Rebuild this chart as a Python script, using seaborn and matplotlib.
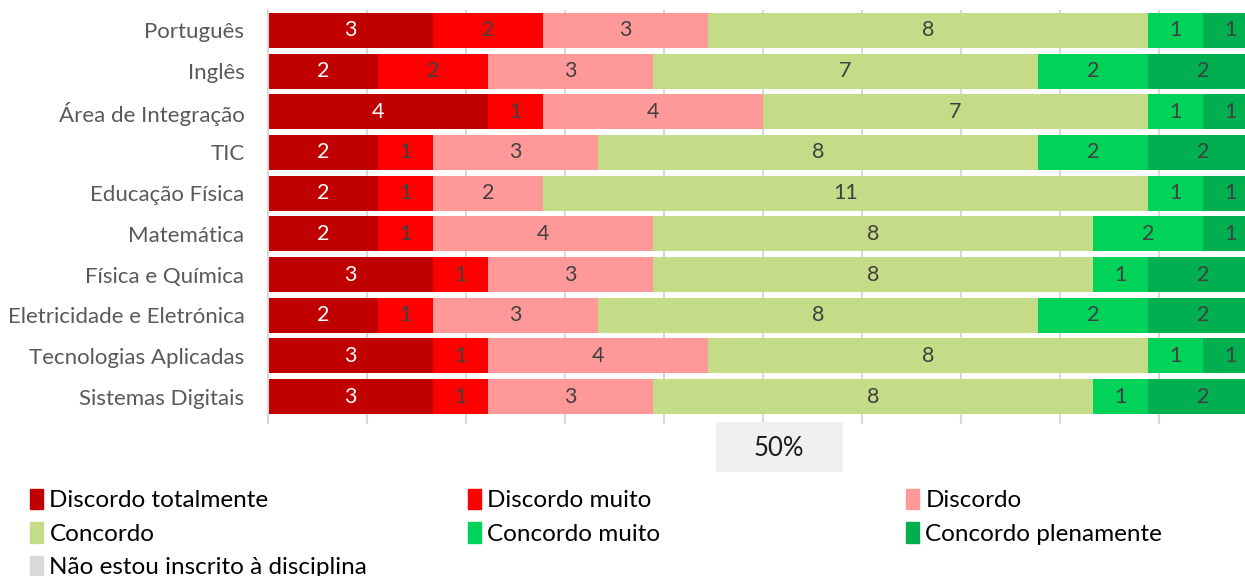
import numpy as np
import pandas as pd
import matplotlib.pyplot as plt
import matplotlib.patches as mpatches
import seaborn as sns

# dados
disciplinas = ['Português', 'Inglês', 'Área de Integração', 'TIC', 'Educação Física',
               'Matemática', 'Física e Química', 'Eletricidade e Eletrónica',
               'Tecnologias Aplicadas', 'Sistemas Digitais']
niveis = ['Discordo totalmente', 'Discordo muito', 'Discordo', 'Concordo',
          'Concordo muito', 'Concordo plenamente', 'Não estou inscrito à disciplina']
discordo_totalmente = [3, 2, 4, 2, 2, 2, 3, 2, 3, 3]
discordo_muito = [2, 2, 1, 1, 1, 1, 1, 1, 1, 1]
discordo = [3, 3, 4, 3, 2, 4, 3, 3, 4, 3]
concordo = [8, 7, 7, 8, 11, 8, 8, 8, 8, 8]
concordo_muito = [1, 2, 1, 2, 1, 2, 1, 2, 1, 1]
concordo_plenamente = [1, 2, 1, 2, 1, 1, 2, 2, 1, 2]
nao_inscrito = [0, 0, 0, 0, 0, 0, 0, 0, 0, 0]

cores = ['#C00000', '#FF0000', '#FF9999', '#C4DC87', '#00D25A', '#00B050', '#D9D9D9']
cor_texto = ['white', '#404040', '#404040', '#404040', '#404040', '#404040', '#404040']

df = pd.DataFrame(
    np.array([discordo_totalmente, discordo_muito, discordo, concordo,
              concordo_muito, concordo_plenamente, nao_inscrito]).T,
    index=disciplinas, columns=niveis)
total = df.sum(axis=1)
frac = df.div(total, axis=0)
cum = frac.cumsum(axis=1)

plt.rcParams['font.family'] = ['Lato', 'DejaVu Sans']

fig = plt.figure(figsize=(12.45, 5.76), dpi=100)
ax = fig.add_axes([268 / 1245, 1 - 417 / 576, 977 / 1245, 407 / 576])

# barras empilhadas: desenhar do maior acumulado para o menor
for i in range(len(niveis) - 1, -1, -1):
    sns.barplot(x=cum[niveis[i]].values, y=disciplinas, orient='h', color=cores[i],
                width=0.86, saturation=1, ax=ax, zorder=2)

# rótulos
for i, nivel in enumerate(niveis):
    for j, d in enumerate(disciplinas):
        v = df.loc[d, nivel]
        if v > 0:
            xc = cum.loc[d, nivel] - frac.loc[d, nivel] / 2
            ax.text(xc, j, str(v), ha='center', va='center', fontsize=15.5,
                    color=cor_texto[i], zorder=3)

ax.set_xlim(0, 977 / 990)
ax.set_ylim(9.5, -0.5)
ax.set_xticks(np.arange(0, 1.0, 0.1))
ax.set_xticklabels([])
ax.set_xlabel('')
ax.set_ylabel('')
ax.grid(axis='x', color='#D9D9D9', linewidth=1.5, zorder=0)
ax.set_axisbelow(True)
ax.tick_params(axis='x', length=5, color='#D9D9D9', width=1.5)
ax.tick_params(axis='y', length=0, pad=17, labelsize=16, labelcolor='#595959')
for s in ['top', 'right', 'bottom']:
    ax.spines[s].set_visible(False)
ax.spines['left'].set_color('#D9D9D9')
ax.spines['left'].set_linewidth(1.5)

# caixa 50%
fig.patches.append(mpatches.Rectangle((716 / 1245, 1 - 472 / 576), 127 / 1245, 50 / 576,
                                      transform=fig.transFigure, facecolor='#F0F0F0',
                                      edgecolor='none'))
fig.text(779 / 1245, 1 - 449 / 576, '50%', ha='center', va='center', fontsize=18.5, color='#1a1a1a')

# legenda: três colunas
handles = [mpatches.Patch(color=c, label=n) for c, n in zip(cores, niveis)]
colunas = [[0, 3, 6], [1, 4], [2, 5]]
x_col = [30, 468, 906]
for xs, idx in zip(x_col, colunas):
    fig.legend([handles[k] for k in idx], [niveis[k] for k in idx],
               loc='upper left', bbox_to_anchor=(xs / 1245, 1 - 489 / 576), frameon=False,
               fontsize=17.5, handlelength=0.55, handleheight=0.9, handletextpad=0.25,
               labelspacing=0.45, borderaxespad=0, borderpad=0)

fig.savefig('out.png', dpi=100)
